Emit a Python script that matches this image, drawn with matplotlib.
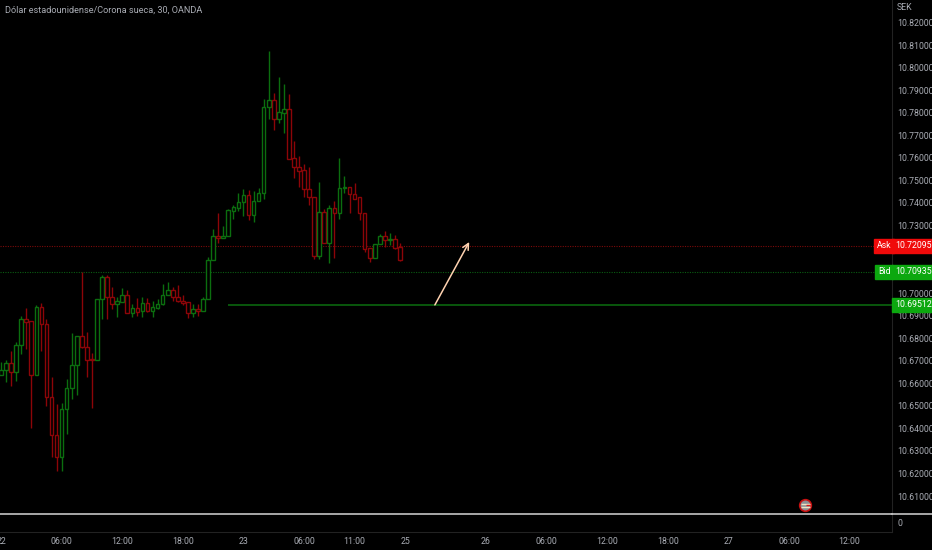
"""USD/SEK 30 minute candles, dark chart with ask/bid tags and a drawn long setup."""

import matplotlib
matplotlib.use("Agg")
import matplotlib.pyplot as plt
from matplotlib.transforms import blended_transform_factory


TITLE = "Dólar estadounidense/Corona sueca, 30, OANDA"

# one value per 30 minute bar
opens = [
    10.66367, 10.66589, 10.66914, 10.66515, 10.67682, 10.68835, 10.68746, 10.66367, 10.69367, 10.68643,
    10.65377, 10.63720, 10.62746, 10.64874, 10.65805, 10.66796, 10.68081, 10.67594, 10.67076, 10.67017,
    10.69722, 10.70697, 10.69840, 10.69515, 10.69604, 10.69914, 10.69131, 10.69323, 10.69219, 10.69544,
    10.69219, 10.69337, 10.69500, 10.69899, 10.70121, 10.69810, 10.69663, 10.69589, 10.69131, 10.69278,
    10.69219, 10.69751, 10.71451, 10.72545, 10.72456, 10.72530, 10.73653, 10.73771, 10.74024, 10.74335,
    10.73477, 10.74068, 10.74453, 10.78236, 10.78562, 10.77734, 10.78000, 10.78148, 10.75975, 10.75606,
    10.75458, 10.74615, 10.74275, 10.71659, 10.73581, 10.72236, 10.73788, 10.73536, 10.74659, 10.74689,
    10.74393, 10.74245, 10.73565, 10.72013, 10.71540, 10.72161, 10.72531, 10.72368, 10.72398, 10.72028,
]
highs = [
    10.66958, 10.67032, 10.67446, 10.67830, 10.68983, 10.69323, 10.68746, 10.69471, 10.69574, 10.68835,
    10.66263, 10.65081, 10.65140, 10.66175, 10.68214, 10.68081, 10.70934, 10.68274, 10.67357, 10.69722,
    10.70786, 10.70786, 10.70284, 10.69840, 10.70209, 10.70136, 10.69515, 10.69781, 10.69840, 10.69781,
    10.69663, 10.69751, 10.70402, 10.70476, 10.70254, 10.70343, 10.69899, 10.69589, 10.69515, 10.69515,
    10.69810, 10.71614, 10.72840, 10.73535, 10.72973, 10.73712, 10.73890, 10.74451, 10.74615, 10.74571,
    10.74527, 10.74645, 10.78591, 10.80719, 10.78857, 10.79596, 10.79271, 10.78828, 10.76744, 10.76079,
    10.75709, 10.75576, 10.74275, 10.74926, 10.73729, 10.73906, 10.74068, 10.75974, 10.75206, 10.74689,
    10.74866, 10.74245, 10.73565, 10.72013, 10.72176, 10.72619, 10.72752, 10.72649, 10.72575, 10.72206,
]
lows = [
    10.66367, 10.66071, 10.65879, 10.66116, 10.67298, 10.67505, 10.64017, 10.66367, 10.67446, 10.64992,
    10.62746, 10.62096, 10.62125, 10.63736, 10.65318, 10.65495, 10.67549, 10.66263, 10.64904, 10.67017,
    10.68835, 10.68865, 10.69279, 10.68953, 10.69604, 10.69131, 10.68953, 10.68983, 10.68953, 10.69175,
    10.68953, 10.69278, 10.69470, 10.69899, 10.69663, 10.69618, 10.69470, 10.68879, 10.68953, 10.68983,
    10.69219, 10.69751, 10.71451, 10.72205, 10.72427, 10.72515, 10.73299, 10.73653, 10.73418, 10.73241,
    10.73167, 10.74068, 10.74187, 10.77704, 10.77231, 10.77527, 10.77084, 10.75960, 10.75103, 10.74689,
    10.74275, 10.73906, 10.71497, 10.71497, 10.72236, 10.71349, 10.71556, 10.73270, 10.74423, 10.73536,
    10.74157, 10.73240, 10.71836, 10.71393, 10.71540, 10.72161, 10.72028, 10.72132, 10.71954, 10.71437,
]
closes = [
    10.66589, 10.66914, 10.66515, 10.67682, 10.68835, 10.68732, 10.66367, 10.69367, 10.68628, 10.65377,
    10.63706, 10.62746, 10.64874, 10.65805, 10.66796, 10.68081, 10.67594, 10.67047, 10.67017, 10.69722,
    10.70697, 10.69840, 10.69515, 10.69633, 10.69914, 10.69131, 10.69323, 10.69175, 10.69544, 10.69219,
    10.69367, 10.69500, 10.69929, 10.70121, 10.69810, 10.69663, 10.69544, 10.69131, 10.69278, 10.69190,
    10.69751, 10.71451, 10.72530, 10.72456, 10.72545, 10.73683, 10.73801, 10.74023, 10.74335, 10.73477,
    10.74068, 10.74453, 10.78266, 10.78562, 10.77734, 10.78044, 10.78148, 10.75960, 10.75606, 10.75413,
    10.74615, 10.74275, 10.71659, 10.73581, 10.72236, 10.73788, 10.73536, 10.74674, 10.74689, 10.74378,
    10.74186, 10.73565, 10.71969, 10.71540, 10.72176, 10.72531, 10.72353, 10.72398, 10.71984, 10.71467,
]

price_ticks = [10.82, 10.81, 10.80, 10.79, 10.78, 10.77, 10.76, 10.75, 10.74, 10.73, 10.72,
               10.70, 10.69, 10.68, 10.67, 10.66, 10.65, 10.64, 10.63, 10.62, 10.61]
time_ticks = [0, 12, 24, 36, 48, 60, 70, 80, 96, 108, 120, 132, 144, 156, 168]
time_labels = ["22", "06:00", "12:00", "18:00", "23", "06:00", "11:00", "25", "26",
               "06:00", "12:00", "18:00", "27", "06:00", "12:00"]

ask_price = 10.72095
bid_price = 10.70935
level_price = 10.69512
level_drawn = 10.69475  # line sits a touch under its printed price on the scale
level_start = 44.95
arrow_start = (85.9, 10.69475)
arrow_end = (92.7, 10.72264)
event_bar = 159.2
event_price = 10.6058

GREEN = "#0b6e0f"
RED = "#8c0508"
TEXT = "#a9acb4"
GRID = "#222222"
FONT = ["Liberation Sans Narrow", "Roboto"]
SMALL = 6.3
W, H = 932, 550


def price_tag(ax, price, text, x_px, color, fg="white"):
    # tags sit over the price scale, so x is given in figure pixels
    trans = blended_transform_factory(ax.figure.transFigure, ax.transData)
    ax.text(x_px / W, price, text, transform=trans, color=fg, fontsize=SMALL, family=FONT,
            ha="left", va="center", clip_on=False, zorder=10,
            bbox=dict(facecolor=color, edgecolor=color, pad=1.8))


def main() -> None:
    fig = plt.figure(figsize=(W / 100, H / 100), dpi=100, facecolor="black")
    ax = fig.add_axes([0, 1 - 514 / H, 892 / W, 514 / H], facecolor="black")
    pane = fig.add_axes([0, 1 - 532 / H, 892 / W, 18 / H], facecolor="black", sharex=ax)

    ax.set_xlim(-0.198, 176.4)
    ax.set_ylim(10.60202, 10.82996)

    bars = range(len(opens))
    colors = [GREEN if c >= o else RED for o, c in zip(opens, closes)]
    ax.vlines(bars, lows, highs, colors=colors, linewidth=1.0, zorder=2)
    bottoms = [min(o, c) for o, c in zip(opens, closes)]
    heights = [abs(c - o) for o, c in zip(opens, closes)]
    ax.bar(bars, heights, bottom=bottoms, width=0.72, facecolor="black",
           edgecolor=colors, linewidth=1.0, zorder=3)

    ax.axhline(ask_price, color="#7c0a0a", linewidth=0.8, linestyle=(0, (1, 1.2)), zorder=1)
    ax.axhline(bid_price, color="#0a5c12", linewidth=0.8, linestyle=(0, (1, 1.2)), zorder=1)
    ax.hlines(level_drawn, level_start, 176.4, color="#0b6e0f", linewidth=1.1, zorder=2)

    ax.annotate("", xy=arrow_end, xytext=arrow_start, zorder=5,
                arrowprops=dict(arrowstyle="->", color="#ffd2b0", linewidth=1.1,
                                mutation_scale=11, shrinkA=0, shrinkB=0))

    # economic calendar bubble
    ax.scatter([event_bar], [event_price], s=70, facecolor="#8b8f94", edgecolor="#c81010",
               linewidth=1.2, zorder=6)
    ax.hlines(event_price + 0.0007, event_bar - 0.9, event_bar + 1.0, color="#f2e2c0", linewidth=1.0, zorder=7)
    ax.hlines(event_price + 0.0001, event_bar + 0.1, event_bar + 1.0, color="#d81818", linewidth=1.0, zorder=7)
    ax.hlines(event_price - 0.0006, event_bar - 0.9, event_bar + 1.0, color="#f2e2c0", linewidth=1.0, zorder=7)

    ax.yaxis.tick_right()
    ax.set_yticks(price_ticks, [f"{p:.5f}" for p in price_ticks])
    ax.tick_params(axis="y", length=0, pad=4, labelcolor=TEXT, labelsize=SMALL)
    ax.tick_params(axis="x", length=0, labelbottom=False)
    for label in ax.get_yticklabels():
        label.set_family(FONT)

    pane.set_ylim(-1, 1)
    pane.yaxis.tick_right()
    pane.set_yticks([0], ["0"])
    pane.set_xticks(time_ticks, time_labels)
    pane.tick_params(axis="y", length=0, pad=4, labelcolor=TEXT, labelsize=SMALL)
    pane.tick_params(axis="x", length=0, pad=3.5, labelcolor=TEXT, labelsize=SMALL)
    for label in pane.get_xticklabels() + pane.get_yticklabels():
        label.set_family(FONT)

    for spine in ax.spines.values():
        spine.set_visible(False)
    ax.spines["right"].set_visible(True)
    ax.spines["right"].set_color(GRID)
    for name, spine in pane.spines.items():
        spine.set_color(GRID)
        spine.set_linewidth(0.8)
    pane.spines["left"].set_visible(False)
    pane.spines["top"].set_color("#c4c4c4")
    pane.spines["top"].set_linewidth(1.2)
    pane.spines["top"].set_zorder(8)

    # the white pane divider runs on past the price scale
    fig.add_artist(plt.Line2D([892 / W, 1], [1 - 514 / H] * 2, color="#c4c4c4", linewidth=1.2))

    fig.text(5 / W, 1 - 10 / H, TITLE, color=TEXT, fontsize=6.6, family=FONT, va="center")
    fig.text(897 / W, 1 - 8 / H, "SEK", color=TEXT, fontsize=SMALL, family=FONT, va="center")

    price_tag(ax, ask_price, "Ask", 877, "#f00a0a")
    price_tag(ax, ask_price, f"{ask_price:.5f}", 895, "#f00a0a")
    price_tag(ax, bid_price, "Bid", 878, "#0ca80f")
    price_tag(ax, bid_price, f"{bid_price:.5f}", 895, "#0ca80f")
    price_tag(ax, level_drawn, f"{level_price:.5f}", 895, "#0ca80f")

    fig.savefig("out.png", dpi=100, facecolor="black")
    plt.close(fig)


if __name__ == "__main__":
    main()
